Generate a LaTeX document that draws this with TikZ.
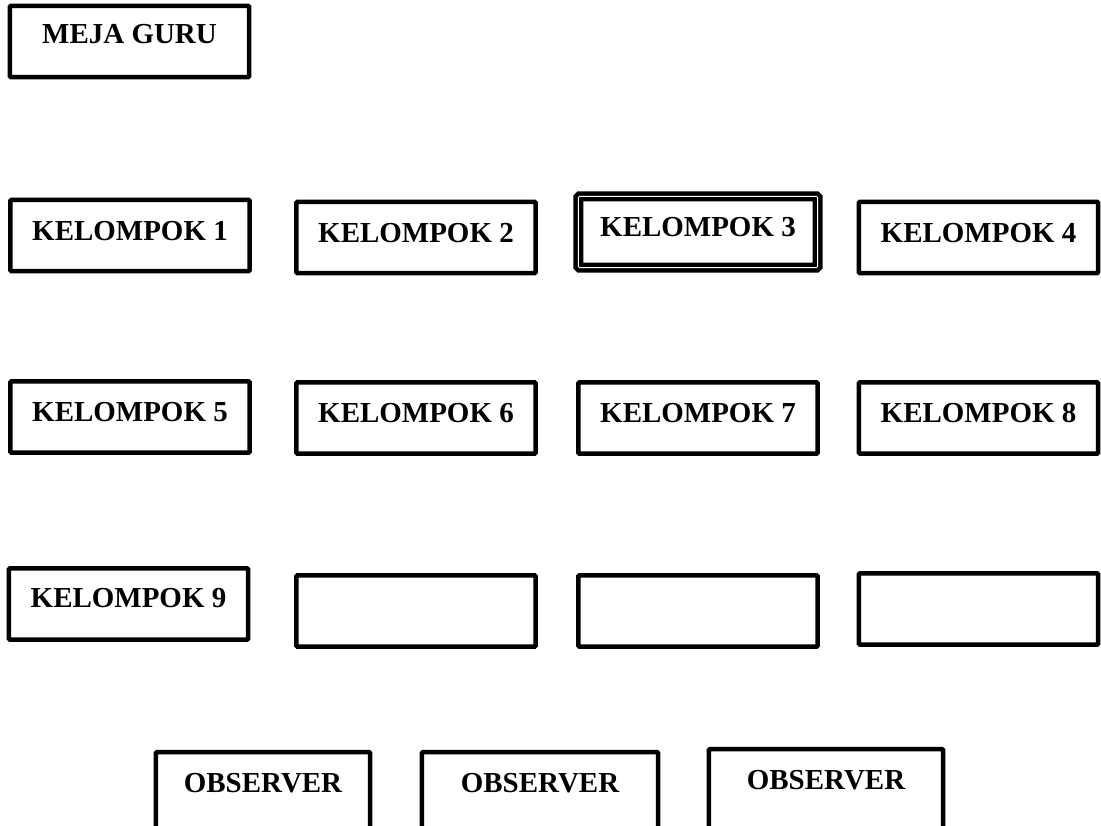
\documentclass[tikz,border=0pt]{standalone}
\usepackage{fontspec}
\setmainfont{Liberation Serif}
\usepackage{tikz}

\begin{document}
\begin{tikzpicture}[x=0.025cm,y=-0.025cm,line cap=round,
  kotak/.style={draw,line width=3.2pt,rounded corners=0.8pt,minimum width=5.98cm,minimum height=1.78cm,
    inner sep=0pt,text height=13.6pt,text depth=7pt,font=\bfseries\fontsize{20.6}{24}\selectfont},
  kosong/.style={kotak,text depth=0pt},
  pengamat/.style={kotak,minimum height=2cm,text depth=13.5pt}]
\useasboundingbox (0,0) rectangle (1101,825);
% meja guru
\node[kotak,text depth=11pt] (guru) at (129.5,41.5) {MEJA GURU};
% baris 1
\node[kotak] (k1) at (130,235.5) {KELOMPOK 1};
\node[kotak] (k2) at (416,237.5) {KELOMPOK 2};
\node[kotak,double,double distance=0.6pt] (k3) at (698,232) {KELOMPOK 3};
\node[kotak] (k4) at (978.5,237.5) {KELOMPOK 4};
% baris 2
\node[kotak] (k5) at (130,417) {KELOMPOK 5};
\node[kotak] (k6) at (416,418) {KELOMPOK 6};
\node[kotak] (k7) at (698,418) {KELOMPOK 7};
\node[kotak] (k8) at (978.5,418) {KELOMPOK 8};
% baris 3
\node[kotak,text depth=9pt] (k9) at (128.5,604) {KELOMPOK 9};
\node[kosong] (m2) at (416,611) {};
\node[kosong] (m3) at (698,611) {};
\node[kosong] (m4) at (978.5,609) {};
% observer
\node[pengamat,minimum width=5.35cm] (obs1) at (263,792) {OBSERVER};
\node[pengamat,minimum width=5.9cm] (obs2) at (540,792) {OBSERVER};
\node[pengamat,minimum width=5.85cm] (obs3) at (826,789) {OBSERVER};
\end{tikzpicture}
\end{document}
